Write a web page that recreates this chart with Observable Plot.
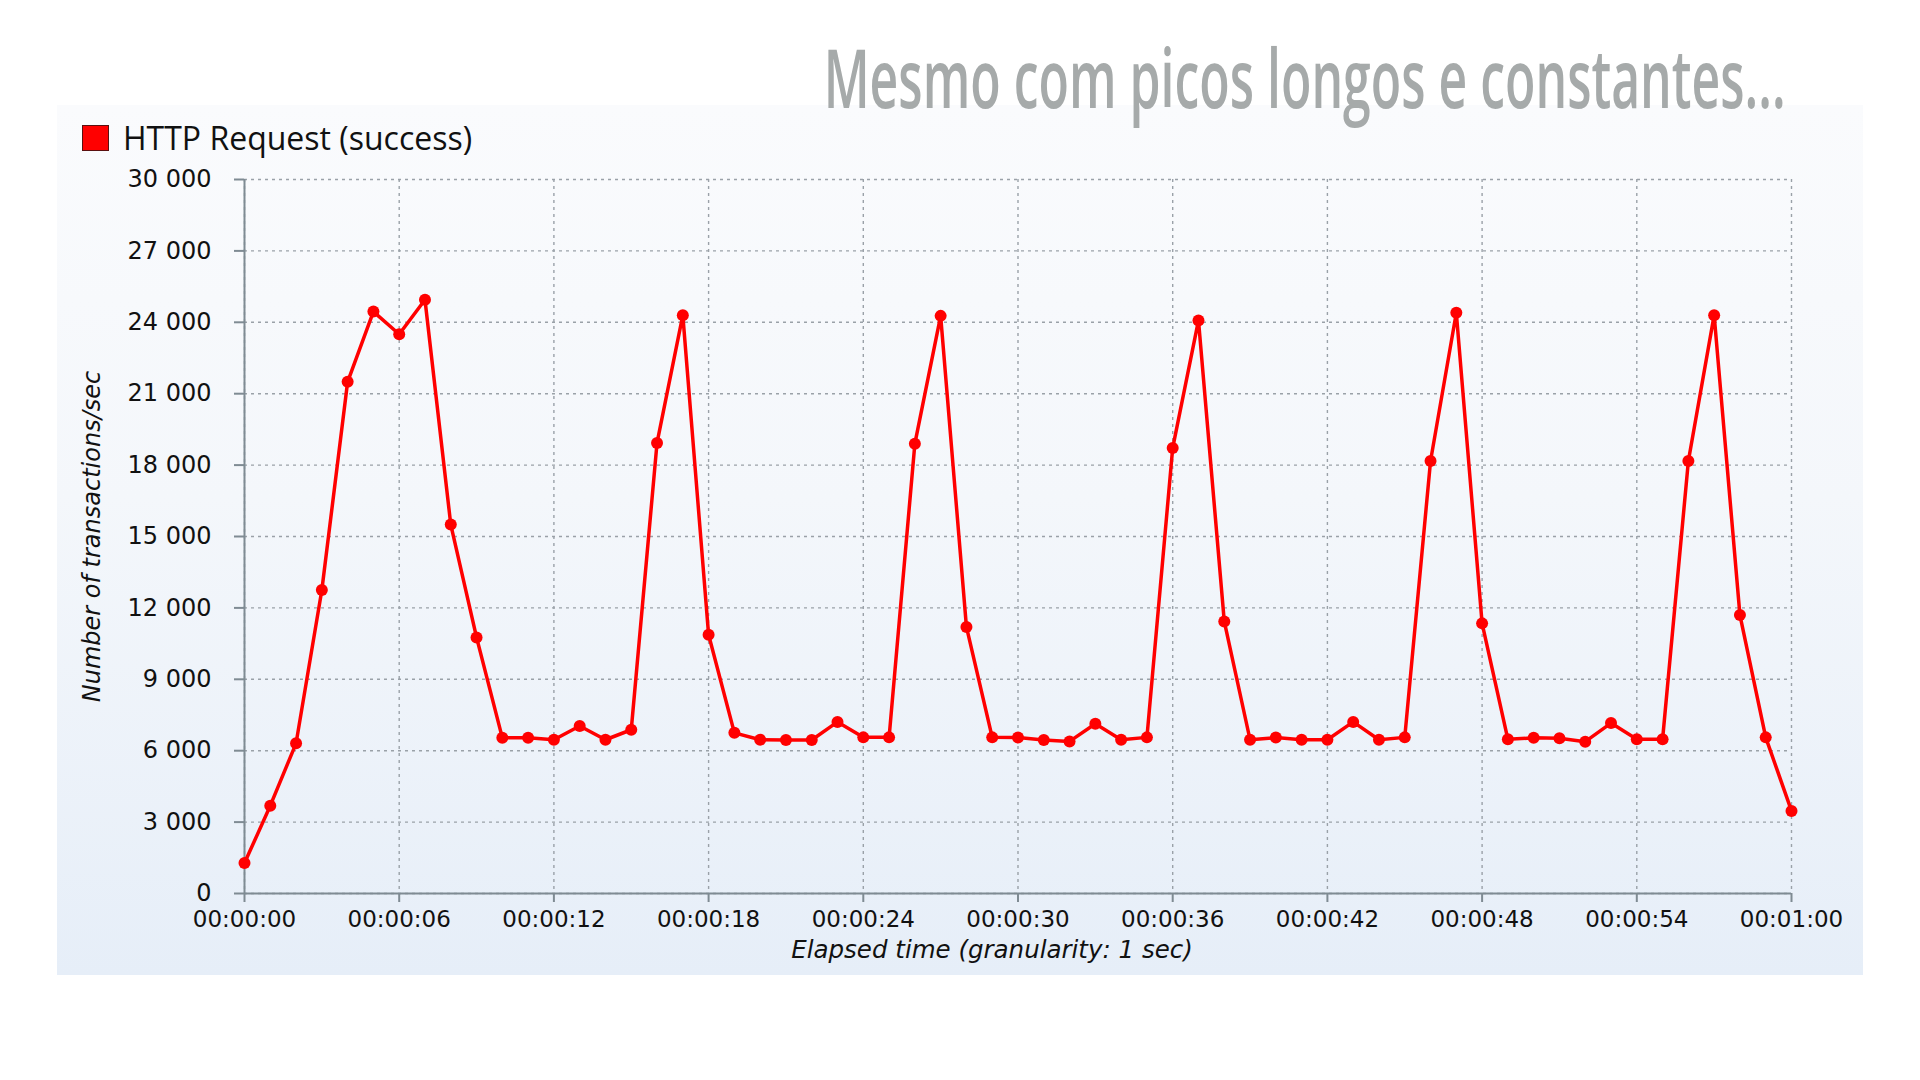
<!DOCTYPE html>
<html>
<head>
<meta charset="utf-8">
<script src="https://cdn.jsdelivr.net/npm/d3@7"></script>
<script src="https://cdn.jsdelivr.net/npm/@observablehq/plot@0.6"></script>
<style>
  html, body { margin:0; padding:0; background:#ffffff; width:1920px; height:1080px; overflow:hidden; }
  #panel { position:absolute; left:57px; top:105px; width:1806px; height:870px;
           background: linear-gradient(to bottom, #fafbfd 0%, #f4f7fb 45%, #e6eef8 100%); }
  #title { position:absolute; right:134px; top:27px; white-space:nowrap; line-height:1.2;
           font-family:"Open Sans", sans-serif; font-weight:600; font-size:82px; color:#a6aaaa;
           transform-origin:right top; z-index:2; }
  #legend { position:absolute; left:82px; top:116px; display:flex; align-items:center;
            font-family:"Open Sans", sans-serif; font-size:32px; color:#111; }
  #legend .sw { width:25px; height:24px; background:#ff0000; border:1.5px solid #5a1010; margin-right:14px; }
  #chart { position:absolute; left:0; top:0; }
</style>
</head>
<body>
<div id="panel"></div>
<div id="title">Mesmo com picos longos e constantes...</div>
<div id="legend"><div class="sw"></div><span>HTTP Request (success)</span></div>
<div id="chart"></div>
<script>
const seconds = [0,1,2,3,4,5,6,7,8,9,10,11,12,13,14,15,16,17,18,19,20,21,22,23,24,25,26,27,28,29,30,
                 31,32,33,34,35,36,37,38,39,40,41,42,43,44,45,46,47,48,49,50,51,52,53,54,55,56,57,58,59,60];
const transactions = [1280,3690,6310,12750,21500,24450,23500,24950,15500,10760,
                      6540,6540,6460,7040,6460,6880,18930,24300,10870,6750,
                      6460,6450,6450,7210,6560,6560,18900,24270,11200,6560,
                      6550,6450,6390,7130,6460,6560,18720,24080,11430,6460,
                      6550,6460,6460,7210,6460,6560,18170,24400,11350,6480,
                      6540,6520,6380,7160,6480,6480,18170,24300,11700,6560,
                      3470];
const yTicks = [0,3000,6000,9000,12000,15000,18000,21000,24000,27000,30000];
const yTickLabels = ["0","3 000","6 000","9 000","12 000","15 000","18 000","21 000","24 000","27 000","30 000"];
const xTicks = [0,6,12,18,24,30,36,42,48,54,60];
const xTickLabels = ["00:00:00","00:00:06","00:00:12","00:00:18","00:00:24","00:00:30",
                     "00:00:36","00:00:42","00:00:48","00:00:54","00:01:00"];
const yTitle = "Number of transactions/sec";
const xTitle = "Elapsed time (granularity: 1 sec)";

// condense the heading to the reference's width
const titleEl = document.getElementById("title");
const natural = titleEl.getBoundingClientRect().width;
titleEl.style.transform = `scaleX(${962 / natural})`;

const data = seconds.map((s, i) => ({s, v: transactions[i]}));
const axisColor = "#7f8b93";
const gridColor = "#9aa1a8";

const chart = Plot.plot({
  width: 1920, height: 1080,
  marginLeft: 244, marginRight: 129, marginTop: 179, marginBottom: 187,
  x: {domain: [0, 60]},
  y: {domain: [0, 30000]},
  style: {background: "transparent", fontFamily: "DejaVu Sans", color: "#111"},
  marks: [
    Plot.gridX(xTicks, {stroke: gridColor, strokeOpacity: 1, strokeWidth: 1.4, strokeDasharray: "3,4"}),
    Plot.gridY(yTicks, {stroke: gridColor, strokeOpacity: 1, strokeWidth: 1.4, strokeDasharray: "3,4"}),
    Plot.axisY(yTicks, {tickFormat: d => yTickLabels[yTicks.indexOf(d)], tickSize: 10, tickPadding: 23,
                        fontSize: 24, stroke: axisColor, strokeWidth: 2, fill: "#111", label: null}),
    Plot.axisX(xTicks, {tickFormat: d => xTickLabels[xTicks.indexOf(d)], tickSize: 9, tickPadding: 8,
                        fontSize: 23, stroke: axisColor, strokeWidth: 2, fill: "#111", label: null}),
    Plot.ruleX([0], {stroke: axisColor, strokeWidth: 2}),
    Plot.ruleY([0], {stroke: axisColor, strokeWidth: 2}),
    Plot.line(data, {x: "s", y: "v", stroke: "#ff0000", strokeWidth: 3.5}),
    Plot.dot(data, {x: "s", y: "v", r: 6, fill: "#ff0000", stroke: "none"}),
    Plot.text([yTitle], {frameAnchor: "left", dx: -152, rotate: -90, text: d => d, fontSize: 24,
                         fontStyle: "italic", fill: "#111", textAnchor: "middle"}),
    Plot.text([xTitle], {frameAnchor: "bottom", dy: 57, dx: -26, text: d => d, fontSize: 24.5,
                         fontStyle: "italic", fill: "#111", textAnchor: "middle", lineAnchor: "middle"})
  ]
});
document.getElementById("chart").appendChild(chart);
</script>
</body>
</html>
